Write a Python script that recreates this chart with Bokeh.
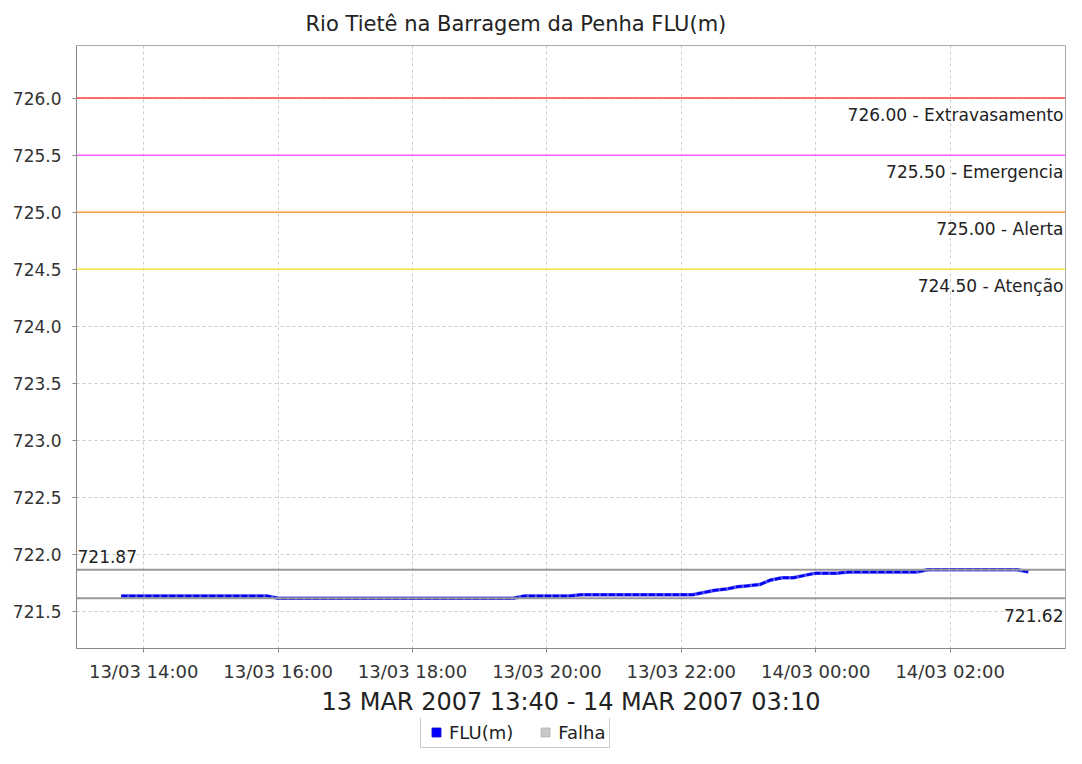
import pandas as pd
from bokeh.plotting import figure
from bokeh.layouts import column
from bokeh.models import (Range1d, FixedTicker, DatetimeTickFormatter, PrintfTickFormatter,
                          Span, Label, Legend, LegendItem, ColumnDataSource, Title)
from bokeh.embed import file_html
from bokeh.resources import INLINE

# ---------------- data ----------------
title_text = "Rio Tietê na Barragem da Penha FLU(m)"
x_axis_label = "13 MAR 2007 13:40 - 14 MAR 2007 03:10"
series_name = "FLU(m)"
fail_name = "Falha"

times = ["2007-03-13 13:40", "2007-03-13 15:50", "2007-03-13 16:00", "2007-03-13 19:30",
         "2007-03-13 19:40", "2007-03-13 20:20", "2007-03-13 20:30", "2007-03-13 22:10",
         "2007-03-13 22:20", "2007-03-13 22:30", "2007-03-13 22:40", "2007-03-13 22:50",
         "2007-03-13 23:00", "2007-03-13 23:10", "2007-03-13 23:20", "2007-03-13 23:30",
         "2007-03-13 23:40", "2007-03-13 23:50", "2007-03-14 00:00", "2007-03-14 00:20",
         "2007-03-14 00:30", "2007-03-14 01:30", "2007-03-14 01:40", "2007-03-14 03:00",
         "2007-03-14 03:10"]
levels = [721.64, 721.64, 721.62, 721.62,
          721.64, 721.64, 721.65, 721.65,
          721.67, 721.69, 721.70, 721.72,
          721.73, 721.74, 721.78, 721.80,
          721.80, 721.82, 721.84, 721.84,
          721.85, 721.85, 721.87, 721.87,
          721.85]

threshold_values = [726.00, 725.50, 725.00, 724.50]
threshold_names = ["Extravasamento", "Emergencia", "Alerta", "Atenção"]
threshold_colors = ["#ff4040", "#ff5cff", "#ff9a3c", "#f5e43a"]

x_ticks = ["2007-03-13 14:00", "2007-03-13 16:00", "2007-03-13 18:00", "2007-03-13 20:00",
           "2007-03-13 22:00", "2007-03-14 00:00", "2007-03-14 02:00"]
y_ticks = [721.5, 722.0, 722.5, 723.0, 723.5, 724.0, 724.5, 725.0, 725.5, 726.0]

x_start = "2007-03-13 13:00"
x_end = "2007-03-14 03:43"
y_start = 721.18
y_end = 726.46


def to_ms(vals):
    return pd.to_datetime(vals).values.astype("datetime64[ms]").astype("int64").tolist()


FONT = "DejaVu Sans"

p = figure(width=1066, height=718, output_backend="svg", toolbar_location=None,
           x_axis_type="datetime",
           x_range=Range1d(to_ms([x_start])[0], to_ms([x_end])[0]),
           y_range=Range1d(y_start, y_end),
           min_border_left=76, min_border_right=1, min_border_top=45,
           min_border_bottom=66,
           background_fill_color="white", border_fill_color="white")

p.add_layout(Title(text=title_text, align="left", offset=229, text_font=FONT,
                   text_font_size="21px", text_font_style="normal", text_color="#222222",
                   standoff=19), "above")

p.outline_line_color = "#aaaaaa"

# grids
for g in (p.xgrid, p.ygrid):
    g.grid_line_color = "#cccccc"
    g.grid_line_dash = "3 3"
    g.grid_line_width = 1

# axes
xa = p.xaxis[0]
xa.ticker = FixedTicker(ticks=to_ms(x_ticks))
fmt = "%d/%m %H:%M"
xa.formatter = DatetimeTickFormatter(hours=fmt, hourmin=fmt, days=fmt, minutes=fmt)
xa.axis_label = x_axis_label
xa.axis_label_text_font = FONT
xa.axis_label_text_font_size = "24px"
xa.axis_label_text_font_style = "normal"
xa.axis_label_text_color = "#222222"
xa.axis_label_standoff = 3
xa.major_label_standoff = 8

ya = p.yaxis[0]
ya.ticker = FixedTicker(ticks=y_ticks)
ya.formatter = PrintfTickFormatter(format="%.1f")
ya.major_label_standoff = 11

for ax in (xa, ya):
    ax.major_label_text_font = FONT
    ax.major_label_text_color = "#333333"
    ax.axis_line_color = "#888888"
    ax.major_tick_line_color = "#888888"
    ax.major_tick_out = 4
    ax.major_tick_in = 0
    ax.minor_tick_line_color = None
xa.major_label_text_font_size = "18px"
ya.major_label_text_font_size = "17px"

# threshold lines and labels
x_end_ms = to_ms([x_end])[0]
x_start_ms = to_ms([x_start])[0]
for val, name, col in zip(threshold_values, threshold_names, threshold_colors):
    p.add_layout(Span(location=val, dimension="width", line_color=col, line_width=1.5))
    p.add_layout(Label(x=x_end_ms, y=val, text=f"{val:.2f} - {name}", text_align="right",
                       text_baseline="middle", x_offset=-2, y_offset=-17, text_font=FONT,
                       text_font_size="17px", text_color="#222222"))

# max / min lines
vmax = max(levels)
vmin = min(levels)
for v in (vmax, vmin):
    p.add_layout(Span(location=v, dimension="width", line_color="#999999", line_width=2))
p.add_layout(Label(x=x_start_ms, y=vmax, text=f"{vmax:.2f}", text_align="left",
                   text_baseline="middle", x_offset=1, y_offset=13, text_font=FONT,
                   text_font_size="17px", text_color="#222222"))
p.add_layout(Label(x=x_end_ms, y=vmin, text=f"{vmin:.2f}", text_align="right",
                   text_baseline="middle", x_offset=-2, y_offset=-17, text_font=FONT,
                   text_font_size="17px", text_color="#222222"))

# data series
src = ColumnDataSource(dict(t=pd.to_datetime(times), v=levels))
p.line("t", "v", source=src, line_color="#5a5aff", line_width=3.5)
p.line("t", "v", source=src, line_color="#0000ee", line_width=2.5, line_dash="6 2")

# ---------------- legend strip below the chart ----------------
lg = figure(width=1066, height=30, output_backend="svg", toolbar_location=None,
            x_range=Range1d(0, 1), y_range=Range1d(0, 1),
            min_border=0, outline_line_color=None,
            background_fill_color="white", border_fill_color="white")
lg.axis.visible = False
lg.grid.visible = False

nan = float("nan")
leg_flu = lg.scatter(x=[nan], y=[nan], marker="square", size=10, fill_color="#0000ff",
                     line_color="#0000cc")
leg_fail = lg.scatter(x=[nan], y=[nan], marker="square", size=10, fill_color="#c8c8c8",
                      line_color="#b4b4b4")

legend = Legend(items=[LegendItem(label=series_name, renderers=[leg_flu]),
                       LegendItem(label=fail_name, renderers=[leg_fail])],
                orientation="horizontal", location=(344, 0),
                label_text_font=FONT, label_text_font_size="18px", label_text_color="#222222",
                glyph_width=22, glyph_height=22, label_standoff=2, spacing=21,
                padding=4, margin=0, label_height=18,
                border_line_color="#999999", border_line_width=1,
                background_fill_color="white", background_fill_alpha=1.0)
lg.add_layout(legend, "center")

layout = column(p, lg, spacing=0)
open("out.html", "w").write(file_html(layout, INLINE))
